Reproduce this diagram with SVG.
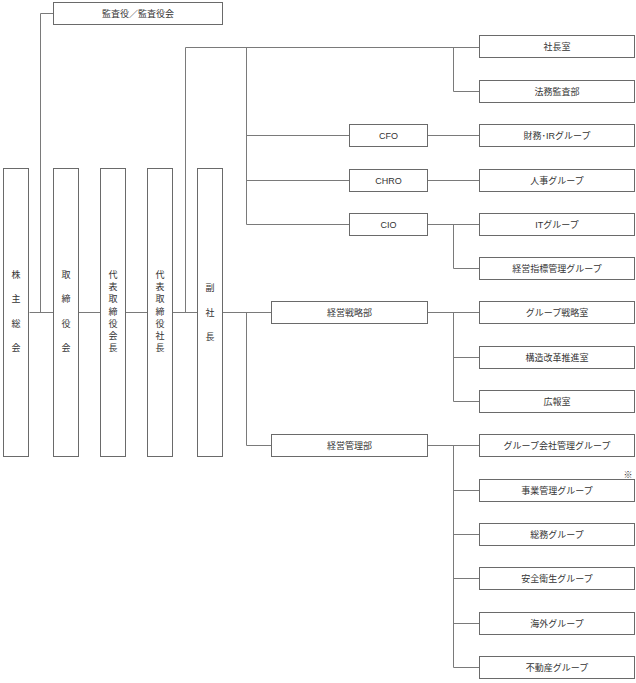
<svg xmlns="http://www.w3.org/2000/svg" width="636" height="683" viewBox="0 0 636 683">
<style>
rect{fill:#fff;stroke:#6a6a6a;stroke-width:1}
text{font-family:"Liberation Sans","Noto Sans CJK JP",sans-serif;font-size:9px;fill:#333;text-anchor:middle;dominant-baseline:central}
.c path{fill:none;stroke:#7a7a7a;stroke-width:1}
</style>
<rect x="0" y="0" width="636" height="683" style="fill:#fff;stroke:none"/>
<g class="c" id="connectors">
<path d="M29.5 312.5H53M79 312.5H100M126 312.5H147M173 312.5H197M223 312.5H271"/>
<path d="M40.5 312.5V13.5H53"/>
<path d="M185.5 312.5V47.5H479M453.5 47.5V91.5H479"/>
<path d="M246.5 47.5V224.5H349M246.5 135.5H349M246.5 180.5H349"/>
<path d="M427 135.5H479M427 180.5H479M427 224.5H479M453.5 224.5V268.5H479"/>
<path d="M246.5 312.5V445.5H271"/>
<path d="M427 312.5H479M453.5 312.5V401.5H479M453.5 357.5H479"/>
<path d="M427 445.5H479M453.5 445.5V667.5H479M453.5 490.5H479M453.5 534.5H479M453.5 578.5H479M453.5 623.5H479"/>
</g>
<g id="audit"><rect x="53.5" y="2.5" width="169" height="22"/><text x="138" y="13.5">監査役／監査役会</text></g>
<g id="shareholders"><rect x="3.5" y="168.5" width="25" height="288"/><text x="16" y="275">株</text><text x="16" y="299">主</text><text x="16" y="323.5">総</text><text x="16" y="348">会</text></g>
<g id="board"><rect x="53.5" y="168.5" width="25" height="288"/><text x="66" y="275">取</text><text x="66" y="299">締</text><text x="66" y="323.5">役</text><text x="66" y="348">会</text></g>
<g id="chairman"><rect x="100.5" y="168.5" width="25" height="288"/><text x="113" y="275">代</text><text x="113" y="287.2">表</text><text x="113" y="299.3">取</text><text x="113" y="311.5">締</text><text x="113" y="323.7">役</text><text x="113" y="335.8">会</text><text x="113" y="348">長</text></g>
<g id="president"><rect x="147.5" y="168.5" width="25" height="288"/><text x="160" y="275">代</text><text x="160" y="287.2">表</text><text x="160" y="299.3">取</text><text x="160" y="311.5">締</text><text x="160" y="323.7">役</text><text x="160" y="335.8">社</text><text x="160" y="348">長</text></g>
<g id="vp"><rect x="197.5" y="168.5" width="25" height="288"/><text x="210" y="288">副</text><text x="210" y="312.5">社</text><text x="210" y="337">長</text></g>
<g id="n1"><rect x="479.5" y="35.5" width="155" height="22"/><text x="557" y="46.5">社長室</text></g>
<g id="n2"><rect x="479.5" y="80.5" width="155" height="22"/><text x="557" y="91.5">法務監査部</text></g>
<g id="cfo"><rect x="349.5" y="124.5" width="78" height="22"/><text x="388.5" y="135.5">CFO</text></g>
<g id="n3"><rect x="479.5" y="124.5" width="155" height="22"/><text x="557" y="135.5">財務･IRグループ</text></g>
<g id="chro"><rect x="349.5" y="169.5" width="78" height="22"/><text x="388.5" y="180.5">CHRO</text></g>
<g id="n4"><rect x="479.5" y="169.5" width="155" height="22"/><text x="557" y="180.5">人事グループ</text></g>
<g id="cio"><rect x="349.5" y="213.5" width="78" height="22"/><text x="388.5" y="224.5">CIO</text></g>
<g id="n5"><rect x="479.5" y="213.5" width="155" height="22"/><text x="557" y="224.5">ITグループ</text></g>
<g id="n6"><rect x="479.5" y="257.5" width="155" height="22"/><text x="557" y="268.5">経営指標管理グループ</text></g>
<g id="strategy"><rect x="271.5" y="301.5" width="156" height="22"/><text x="349.5" y="312.5">経営戦略部</text></g>
<g id="n7"><rect x="479.5" y="301.5" width="155" height="22"/><text x="557" y="312.5">グループ戦略室</text></g>
<g id="n8"><rect x="479.5" y="346.5" width="155" height="22"/><text x="557" y="357.5">構造改革推進室</text></g>
<g id="n9"><rect x="479.5" y="390.5" width="155" height="22"/><text x="557" y="401.5">広報室</text></g>
<g id="mgmt"><rect x="271.5" y="434.5" width="156" height="22"/><text x="349.5" y="445.5">経営管理部</text></g>
<g id="n10"><rect x="479.5" y="434.5" width="155" height="22"/><text x="557" y="445.5">グループ会社管理グループ</text></g>
<g id="n11"><rect x="479.5" y="479.5" width="155" height="22"/><text x="557" y="490.5">事業管理グループ</text><text x="628" y="474.5">※</text></g>
<g id="n12"><rect x="479.5" y="523.5" width="155" height="22"/><text x="557" y="534.5">総務グループ</text></g>
<g id="n13"><rect x="479.5" y="567.5" width="155" height="22"/><text x="557" y="578.5">安全衛生グループ</text></g>
<g id="n14"><rect x="479.5" y="612.5" width="155" height="22"/><text x="557" y="623.5">海外グループ</text></g>
<g id="n15"><rect x="479.5" y="656.5" width="155" height="22"/><text x="557" y="667.5">不動産グループ</text></g>
</svg>
